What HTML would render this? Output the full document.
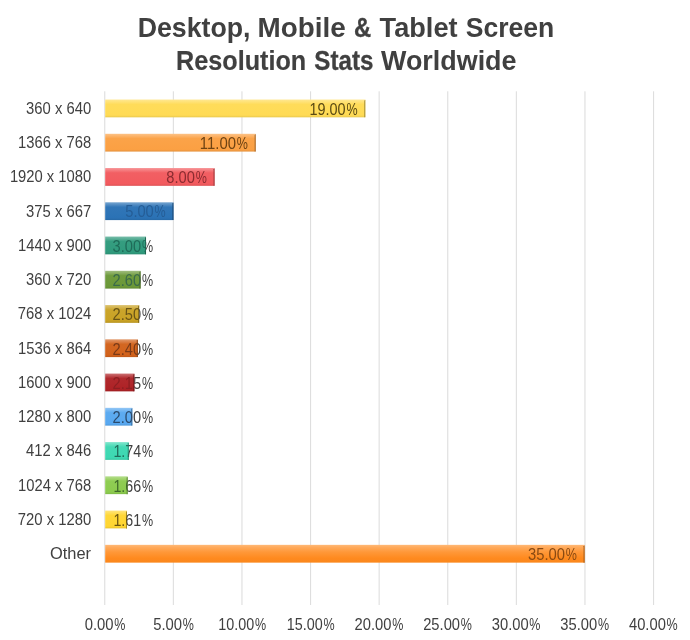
<!DOCTYPE html>
<html lang="en"><head><meta charset="utf-8"><title>Desktop, Mobile &amp; Tablet Screen Resolution Stats Worldwide</title>
<style>html,body{margin:0;padding:0;background:#fff}body{width:690px;height:640px;overflow:hidden}svg{display:block}text{font-family:"Liberation Sans",sans-serif}.t{font-weight:bold;font-size:26.6px;fill:#404040}.c{font-size:14.67px;fill:#404040}.d{font-size:14.67px}</style></head><body>
<svg width="690" height="640" viewBox="0 0 690 640">
<defs>
<linearGradient id="g0" x1="0" y1="0" x2="0" y2="1"><stop offset="0" stop-color="#ffe892"/><stop offset="0.13" stop-color="#ffe277"/><stop offset="0.27" stop-color="#ffdc5a"/><stop offset="0.88" stop-color="#ffdb55"/><stop offset="0.95" stop-color="#f2d051"/><stop offset="1" stop-color="#e8c74d"/></linearGradient>
<linearGradient id="g1" x1="0" y1="0" x2="0" y2="1"><stop offset="0" stop-color="#fcc287"/><stop offset="0.13" stop-color="#fcb369"/><stop offset="0.27" stop-color="#fba349"/><stop offset="0.88" stop-color="#fba043"/><stop offset="0.95" stop-color="#ee9840"/><stop offset="1" stop-color="#e4923d"/></linearGradient>
<linearGradient id="g2" x1="0" y1="0" x2="0" y2="1"><stop offset="0" stop-color="#f79598"/><stop offset="0.13" stop-color="#f57b7e"/><stop offset="0.27" stop-color="#f25f63"/><stop offset="0.88" stop-color="#f25a5e"/><stop offset="0.95" stop-color="#e65659"/><stop offset="1" stop-color="#dc5256"/></linearGradient>
<linearGradient id="g3" x1="0" y1="0" x2="0" y2="1"><stop offset="0" stop-color="#77a5d0"/><stop offset="0.13" stop-color="#558ec4"/><stop offset="0.27" stop-color="#3176b7"/><stop offset="0.88" stop-color="#2b72b5"/><stop offset="0.95" stop-color="#296cac"/><stop offset="1" stop-color="#2768a5"/></linearGradient>
<linearGradient id="g4" x1="0" y1="0" x2="0" y2="1"><stop offset="0" stop-color="#7abeab"/><stop offset="0.13" stop-color="#59ae96"/><stop offset="0.27" stop-color="#359d80"/><stop offset="0.88" stop-color="#2f9a7c"/><stop offset="0.95" stop-color="#2d9276"/><stop offset="1" stop-color="#2b8c71"/></linearGradient>
<linearGradient id="g5" x1="0" y1="0" x2="0" y2="1"><stop offset="0" stop-color="#a0bd80"/><stop offset="0.13" stop-color="#89ad60"/><stop offset="0.27" stop-color="#6f9b3e"/><stop offset="0.88" stop-color="#6b9838"/><stop offset="0.95" stop-color="#669035"/><stop offset="1" stop-color="#618a33"/></linearGradient>
<linearGradient id="g6" x1="0" y1="0" x2="0" y2="1"><stop offset="0" stop-color="#dcc373"/><stop offset="0.13" stop-color="#d4b550"/><stop offset="0.27" stop-color="#cba52b"/><stop offset="0.88" stop-color="#c9a224"/><stop offset="0.95" stop-color="#bf9a22"/><stop offset="1" stop-color="#b79321"/></linearGradient>
<linearGradient id="g7" x1="0" y1="0" x2="0" y2="1"><stop offset="0" stop-color="#e29b6d"/><stop offset="0.13" stop-color="#db8149"/><stop offset="0.27" stop-color="#d36722"/><stop offset="0.88" stop-color="#d2621b"/><stop offset="0.95" stop-color="#c75d1a"/><stop offset="1" stop-color="#bf5919"/></linearGradient>
<linearGradient id="g8" x1="0" y1="0" x2="0" y2="1"><stop offset="0" stop-color="#cb7274"/><stop offset="0.13" stop-color="#be4e51"/><stop offset="0.27" stop-color="#b0292d"/><stop offset="0.88" stop-color="#ae2226"/><stop offset="0.95" stop-color="#a52024"/><stop offset="1" stop-color="#9e1f23"/></linearGradient>
<linearGradient id="g9" x1="0" y1="0" x2="0" y2="1"><stop offset="0" stop-color="#94c7f5"/><stop offset="0.13" stop-color="#79b9f3"/><stop offset="0.27" stop-color="#5dabf0"/><stop offset="0.88" stop-color="#58a8f0"/><stop offset="0.95" stop-color="#54a0e4"/><stop offset="1" stop-color="#5099da"/></linearGradient>
<linearGradient id="g10" x1="0" y1="0" x2="0" y2="1"><stop offset="0" stop-color="#83e6ce"/><stop offset="0.13" stop-color="#64e0c1"/><stop offset="0.27" stop-color="#43d9b4"/><stop offset="0.88" stop-color="#3dd8b2"/><stop offset="0.95" stop-color="#3acda9"/><stop offset="1" stop-color="#38c5a2"/></linearGradient>
<linearGradient id="g11" x1="0" y1="0" x2="0" y2="1"><stop offset="0" stop-color="#b5de8e"/><stop offset="0.13" stop-color="#a3d571"/><stop offset="0.27" stop-color="#8fcd53"/><stop offset="0.88" stop-color="#8ccb4e"/><stop offset="0.95" stop-color="#85c14a"/><stop offset="1" stop-color="#7fb947"/></linearGradient>
<linearGradient id="g12" x1="0" y1="0" x2="0" y2="1"><stop offset="0" stop-color="#ffe57c"/><stop offset="0.13" stop-color="#ffde5b"/><stop offset="0.27" stop-color="#ffd738"/><stop offset="0.88" stop-color="#ffd632"/><stop offset="0.95" stop-color="#f2cb2f"/><stop offset="1" stop-color="#e8c32e"/></linearGradient>
<linearGradient id="g13" x1="0" y1="0" x2="0" y2="1"><stop offset="0" stop-color="#ffb978"/><stop offset="0.14" stop-color="#ffaa5b"/><stop offset="0.4" stop-color="#ff9839"/><stop offset="0.75" stop-color="#ff8a1e"/><stop offset="1" stop-color="#fa871d"/></linearGradient>
</defs>
<rect width="690" height="640" fill="#fff"/>
<text class="t" transform="translate(137.69 37.20) scale(1.0053 1.055)">Desktop,</text>
<text class="t" transform="translate(257.55 37.20) scale(1.0459 1.055)">Mobile</text>
<text class="t" transform="translate(353.91 37.20) scale(0.8944 1.055)" stroke="#404040" stroke-width="0.34">&amp;</text>
<text class="t" transform="translate(379.60 37.20) scale(1.0211 1.055)">Tablet</text>
<text class="t" transform="translate(465.80 37.20) scale(0.9982 1.055)">Screen</text>
<text class="t" transform="translate(176.05 70.10) scale(0.9471 1.055)" stroke="#404040" stroke-width="0.17">Resolution</text>
<text class="t" transform="translate(314.30 70.10) scale(0.9091 1.055)" stroke="#404040" stroke-width="0.29">Stats</text>
<text class="t" transform="translate(381.00 70.10) scale(1.0115 1.055)">Worldwide</text>
<rect x="104.20" y="91.3" width="1.1" height="513.70" fill="#dedede"/>
<rect x="172.80" y="91.3" width="1.1" height="513.70" fill="#dedede"/>
<rect x="241.40" y="91.3" width="1.1" height="513.70" fill="#dedede"/>
<rect x="310.00" y="91.3" width="1.1" height="513.70" fill="#dedede"/>
<rect x="378.60" y="91.3" width="1.1" height="513.70" fill="#dedede"/>
<rect x="447.20" y="91.3" width="1.1" height="513.70" fill="#dedede"/>
<rect x="515.80" y="91.3" width="1.1" height="513.70" fill="#dedede"/>
<rect x="584.40" y="91.3" width="1.1" height="513.70" fill="#dedede"/>
<rect x="653.00" y="91.3" width="1.1" height="513.70" fill="#dedede"/>
<rect x="105.20" y="99.53" width="260.09" height="17.8" fill="url(#g0)"/>
<path d="M364.29 100.83 L365.29 99.83 V117.33 H364.29 Z" fill="#a38c36"/>
<text class="c" transform="translate(26.00 113.93) scale(1.0120 1.08)">360 x 640</text>
<text class="d" transform="translate(309.51 114.73) scale(0.9852 1.08)" fill="#5a4a14">19.00</text>
<text class="d" transform="translate(346.39 114.73) scale(0.8538 1.08)" fill="#5a4a14">%</text>
<rect x="105.20" y="133.78" width="150.45" height="17.8" fill="url(#g1)"/>
<path d="M254.66 135.08 L255.66 134.08 V151.58 H254.66 Z" fill="#a1662b"/>
<text class="c" transform="translate(18.09 148.18) scale(1.0073 1.08)">1366 x 768</text>
<text class="d" transform="translate(199.84 148.98) scale(1.0164 1.08)" fill="#6e4313">11.00</text>
<text class="d" transform="translate(236.75 148.98) scale(0.8538 1.08)" fill="#6e4313">%</text>
<rect x="105.20" y="168.04" width="109.34" height="17.8" fill="url(#g2)"/>
<path d="M213.54 169.34 L214.54 168.34 V185.84 H213.54 Z" fill="#9b3a3c"/>
<text class="c" transform="translate(9.89 182.44) scale(1.0072 1.08)">1920 x 1080</text>
<text class="d" transform="translate(166.34 183.24) scale(1.0009 1.08)" fill="#8a2b30">8.00</text>
<text class="d" transform="translate(195.64 183.24) scale(0.8538 1.08)" fill="#8a2b30">%</text>
<rect x="105.20" y="202.29" width="68.23" height="17.8" fill="url(#g3)"/>
<path d="M172.43 203.59 L173.43 202.59 V220.09 H172.43 Z" fill="#1c4974"/>
<text class="c" transform="translate(26.00 216.69) scale(1.0120 1.08)">375 x 667</text>
<text class="d" transform="translate(125.22 217.49) scale(1.0009 1.08)" fill="#255d96">5.00</text>
<text class="d" transform="translate(154.53 217.49) scale(0.8538 1.08)" fill="#255d96">%</text>
<rect x="105.20" y="236.55" width="40.82" height="17.8" fill="url(#g4)"/>
<path d="M145.02 237.85 L146.02 236.85 V254.35 H145.02 Z" fill="#1e634f"/>
<text class="c" transform="translate(18.09 250.95) scale(1.0073 1.08)">1440 x 900</text>
<clipPath id="ci4"><rect x="0" y="233.55" width="146.02" height="23.8"/></clipPath>
<clipPath id="co4"><rect x="146.02" y="233.55" width="200" height="23.8"/></clipPath>
<g clip-path="url(#ci4)">
<text class="d" transform="translate(112.60 251.75) scale(1.0009 1.08)" fill="#1f6b58">3.00</text>
<text class="d" transform="translate(141.90 251.75) scale(0.8538 1.08)" fill="#1f6b58">%</text>
</g>
<g clip-path="url(#co4)">
<text class="d" transform="translate(112.60 251.75) scale(1.0009 1.08)" fill="#404040">3.00</text>
<text class="d" transform="translate(141.90 251.75) scale(0.8538 1.08)" fill="#404040">%</text>
</g>
<rect x="105.20" y="270.80" width="35.33" height="17.8" fill="url(#g5)"/>
<path d="M139.53 272.10 L140.53 271.10 V288.60 H139.53 Z" fill="#446124"/>
<text class="c" transform="translate(26.00 285.20) scale(1.0120 1.08)">360 x 720</text>
<clipPath id="ci5"><rect x="0" y="267.80" width="140.53" height="23.8"/></clipPath>
<clipPath id="co5"><rect x="140.53" y="267.80" width="200" height="23.8"/></clipPath>
<g clip-path="url(#ci5)">
<text class="d" transform="translate(112.60 286.00) scale(1.0009 1.08)" fill="#3a6a4a">2.60</text>
<text class="d" transform="translate(141.90 286.00) scale(0.8538 1.08)" fill="#3a6a4a">%</text>
</g>
<g clip-path="url(#co5)">
<text class="d" transform="translate(112.60 286.00) scale(1.0009 1.08)" fill="#404040">2.60</text>
<text class="d" transform="translate(141.90 286.00) scale(0.8538 1.08)" fill="#404040">%</text>
</g>
<rect x="105.20" y="305.06" width="33.96" height="17.8" fill="url(#g6)"/>
<path d="M138.16 306.36 L139.16 305.36 V322.86 H138.16 Z" fill="#816817"/>
<text class="c" transform="translate(17.80 319.46) scale(1.0113 1.08)">768 x 1024</text>
<clipPath id="ci6"><rect x="0" y="302.06" width="139.16" height="23.8"/></clipPath>
<clipPath id="co6"><rect x="139.16" y="302.06" width="200" height="23.8"/></clipPath>
<g clip-path="url(#ci6)">
<text class="d" transform="translate(112.60 320.26) scale(1.0009 1.08)" fill="#6a5516">2.50</text>
<text class="d" transform="translate(141.90 320.26) scale(0.8538 1.08)" fill="#6a5516">%</text>
</g>
<g clip-path="url(#co6)">
<text class="d" transform="translate(112.60 320.26) scale(1.0009 1.08)" fill="#404040">2.50</text>
<text class="d" transform="translate(141.90 320.26) scale(0.8538 1.08)" fill="#404040">%</text>
</g>
<rect x="105.20" y="339.31" width="32.59" height="17.8" fill="url(#g7)"/>
<path d="M136.79 340.61 L137.79 339.61 V357.11 H136.79 Z" fill="#863f11"/>
<text class="c" transform="translate(18.09 353.71) scale(1.0073 1.08)">1536 x 864</text>
<clipPath id="ci7"><rect x="0" y="336.31" width="137.79" height="23.8"/></clipPath>
<clipPath id="co7"><rect x="137.79" y="336.31" width="200" height="23.8"/></clipPath>
<g clip-path="url(#ci7)">
<text class="d" transform="translate(112.60 354.51) scale(1.0009 1.08)" fill="#7a3a18">2.40</text>
<text class="d" transform="translate(141.90 354.51) scale(0.8538 1.08)" fill="#7a3a18">%</text>
</g>
<g clip-path="url(#co7)">
<text class="d" transform="translate(112.60 354.51) scale(1.0009 1.08)" fill="#404040">2.40</text>
<text class="d" transform="translate(141.90 354.51) scale(0.8538 1.08)" fill="#404040">%</text>
</g>
<rect x="105.20" y="373.57" width="29.17" height="17.8" fill="url(#g8)"/>
<path d="M133.37 374.87 L134.37 373.87 V391.37 H133.37 Z" fill="#6f1618"/>
<text class="c" transform="translate(18.09 387.97) scale(1.0073 1.08)">1600 x 900</text>
<clipPath id="ci8"><rect x="0" y="370.57" width="134.37" height="23.8"/></clipPath>
<clipPath id="co8"><rect x="134.37" y="370.57" width="200" height="23.8"/></clipPath>
<g clip-path="url(#ci8)">
<text class="d" transform="translate(112.60 388.77) scale(1.0009 1.08)" fill="#8c1f22">2.15</text>
<text class="d" transform="translate(141.90 388.77) scale(0.8538 1.08)" fill="#8c1f22">%</text>
</g>
<g clip-path="url(#co8)">
<text class="d" transform="translate(112.60 388.77) scale(1.0009 1.08)" fill="#404040">2.15</text>
<text class="d" transform="translate(141.90 388.77) scale(0.8538 1.08)" fill="#404040">%</text>
</g>
<rect x="105.20" y="407.82" width="27.11" height="17.8" fill="url(#g9)"/>
<path d="M131.31 409.12 L132.31 408.12 V425.62 H131.31 Z" fill="#386c9a"/>
<text class="c" transform="translate(18.09 422.22) scale(1.0073 1.08)">1280 x 800</text>
<clipPath id="ci9"><rect x="0" y="404.82" width="132.31" height="23.8"/></clipPath>
<clipPath id="co9"><rect x="132.31" y="404.82" width="200" height="23.8"/></clipPath>
<g clip-path="url(#ci9)">
<text class="d" transform="translate(112.60 423.02) scale(1.0009 1.08)" fill="#2b4a6c">2.00</text>
<text class="d" transform="translate(141.90 423.02) scale(0.8538 1.08)" fill="#2b4a6c">%</text>
</g>
<g clip-path="url(#co9)">
<text class="d" transform="translate(112.60 423.02) scale(1.0009 1.08)" fill="#404040">2.00</text>
<text class="d" transform="translate(141.90 423.02) scale(0.8538 1.08)" fill="#404040">%</text>
</g>
<rect x="105.20" y="442.08" width="23.55" height="17.8" fill="url(#g10)"/>
<path d="M127.75 443.38 L128.75 442.38 V459.88 H127.75 Z" fill="#278a72"/>
<text class="c" transform="translate(26.00 456.48) scale(1.0120 1.08)">412 x 846</text>
<clipPath id="ci10"><rect x="0" y="439.08" width="128.75" height="23.8"/></clipPath>
<clipPath id="co10"><rect x="128.75" y="439.08" width="200" height="23.8"/></clipPath>
<g clip-path="url(#ci10)">
<text class="d" transform="translate(113.43 457.28) scale(0.9717 1.08)" fill="#1f6a5a">1.74</text>
<text class="d" transform="translate(141.90 457.28) scale(0.8538 1.08)" fill="#1f6a5a">%</text>
</g>
<g clip-path="url(#co10)">
<text class="d" transform="translate(113.43 457.28) scale(0.9717 1.08)" fill="#404040">1.74</text>
<text class="d" transform="translate(141.90 457.28) scale(0.8538 1.08)" fill="#404040">%</text>
</g>
<rect x="105.20" y="476.33" width="22.45" height="17.8" fill="url(#g11)"/>
<path d="M126.65 477.63 L127.65 476.63 V494.13 H126.65 Z" fill="#5a8232"/>
<text class="c" transform="translate(18.09 490.73) scale(1.0073 1.08)">1024 x 768</text>
<clipPath id="ci11"><rect x="0" y="473.33" width="127.65" height="23.8"/></clipPath>
<clipPath id="co11"><rect x="127.65" y="473.33" width="200" height="23.8"/></clipPath>
<g clip-path="url(#ci11)">
<text class="d" transform="translate(113.43 491.53) scale(0.9717 1.08)" fill="#3f6a2a">1.66</text>
<text class="d" transform="translate(141.90 491.53) scale(0.8538 1.08)" fill="#3f6a2a">%</text>
</g>
<g clip-path="url(#co11)">
<text class="d" transform="translate(113.43 491.53) scale(0.9717 1.08)" fill="#404040">1.66</text>
<text class="d" transform="translate(141.90 491.53) scale(0.8538 1.08)" fill="#404040">%</text>
</g>
<rect x="105.20" y="510.59" width="21.77" height="17.8" fill="url(#g12)"/>
<path d="M125.97 511.89 L126.97 510.89 V528.39 H125.97 Z" fill="#a38920"/>
<text class="c" transform="translate(17.80 524.99) scale(1.0113 1.08)">720 x 1280</text>
<clipPath id="ci12"><rect x="0" y="507.59" width="126.97" height="23.8"/></clipPath>
<clipPath id="co12"><rect x="126.97" y="507.59" width="200" height="23.8"/></clipPath>
<g clip-path="url(#ci12)">
<text class="d" transform="translate(113.43 525.79) scale(0.9717 1.08)" fill="#6a5510">1.61</text>
<text class="d" transform="translate(141.90 525.79) scale(0.8538 1.08)" fill="#6a5510">%</text>
</g>
<g clip-path="url(#co12)">
<text class="d" transform="translate(113.43 525.79) scale(0.9717 1.08)" fill="#404040">1.61</text>
<text class="d" transform="translate(141.90 525.79) scale(0.8538 1.08)" fill="#404040">%</text>
</g>
<rect x="105.20" y="544.84" width="479.38" height="17.8" fill="url(#g13)"/>
<path d="M583.58 546.14 L584.58 545.14 V562.64 H583.58 Z" fill="#a35813"/>
<text class="c" transform="translate(50.00 559.04) scale(1.1203 1.13)">Other</text>
<text class="d" transform="translate(527.98 560.04) scale(1.0075 1.08)" fill="#8a4a12">35.00</text>
<text class="d" transform="translate(565.68 560.04) scale(0.8538 1.08)" fill="#8a4a12">%</text>
<text class="c" transform="translate(84.65 630.30) scale(1.0115 1.08)">0.00</text>
<text class="c" transform="translate(114.25 630.30) scale(0.8538 1.08)">%</text>
<text class="c" transform="translate(153.25 630.30) scale(1.0115 1.08)">5.00</text>
<text class="c" transform="translate(182.85 630.30) scale(0.8538 1.08)">%</text>
<text class="c" transform="translate(218.27 630.30) scale(0.9796 1.08)">10.00</text>
<text class="c" transform="translate(254.95 630.30) scale(0.8538 1.08)">%</text>
<text class="c" transform="translate(286.87 630.30) scale(0.9796 1.08)">15.00</text>
<text class="c" transform="translate(323.55 630.30) scale(0.8538 1.08)">%</text>
<text class="c" transform="translate(354.55 630.30) scale(1.0048 1.08)">20.00</text>
<text class="c" transform="translate(392.15 630.30) scale(0.8538 1.08)">%</text>
<text class="c" transform="translate(423.15 630.30) scale(1.0048 1.08)">25.00</text>
<text class="c" transform="translate(460.75 630.30) scale(0.8538 1.08)">%</text>
<text class="c" transform="translate(491.75 630.30) scale(1.0048 1.08)">30.00</text>
<text class="c" transform="translate(529.35 630.30) scale(0.8538 1.08)">%</text>
<text class="c" transform="translate(560.35 630.30) scale(1.0048 1.08)">35.00</text>
<text class="c" transform="translate(597.95 630.30) scale(0.8538 1.08)">%</text>
<text class="c" transform="translate(628.95 630.30) scale(1.0048 1.08)">40.00</text>
<text class="c" transform="translate(666.55 630.30) scale(0.8538 1.08)">%</text>
</svg></body></html>
